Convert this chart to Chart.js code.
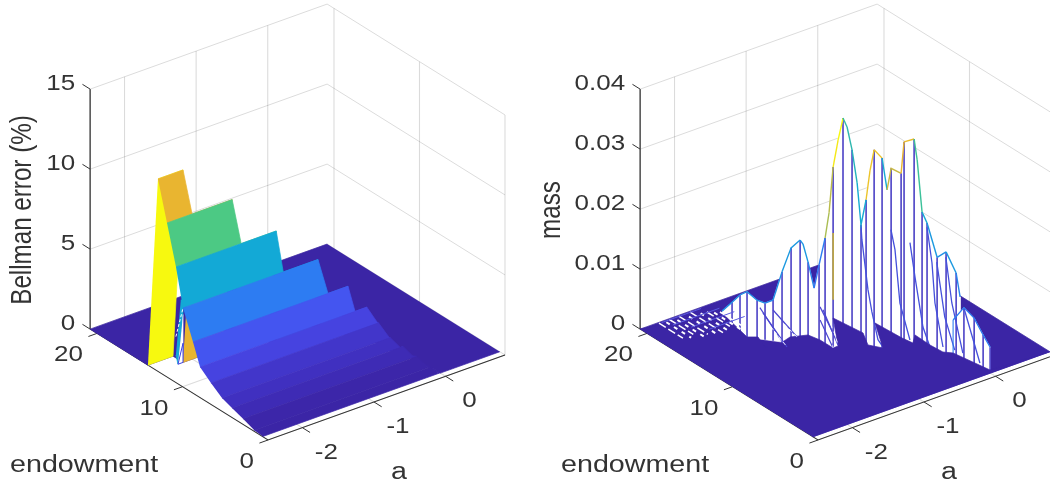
<!DOCTYPE html>
<html>
<head>
<meta charset="utf-8">
<title>Bellman error and mass</title>
<script src="https://cdn.jsdelivr.net/npm/chart.js@4"></script>
<style>
    html, body { margin: 0; padding: 0; background: #fff; overflow: hidden; }
    canvas { position: absolute; top: 0; filter: blur(0.5px); }
    #errorChart { left: 0; }
    #massChart { left: 525px; }
</style>
</head>
<body>
<canvas id="errorChart" width="525" height="485"></canvas>
<canvas id="massChart" width="525" height="485"></canvas>
<script>
/* Both panels are MATLAB style surf plots, so the values are kept as (a, endowment, height)
   and projected to the flat x/y that the Chart.js scales expect. */

// Axis ranges and ticks
const aMin = -2.48;
const aMax = 0.83;
const endowMin = 0.6;  // surface starts a bit in front of the axis
const endowMax = 20.8;
const aTicks = [-2, -1, 0];
const endowTicks = [20, 10, 0];
const errorTicks = [0, 5, 10, 15];
const massTicks = [0, 0.01, 0.02, 0.03, 0.04];

// Left panel: one height and one cliff position per endowment row, back to front
const errorEndow = [20.8, 14.04, 12.87, 11.81, 10.76, 9.94, 8.77, 7.95, 6.67, 5.38, 4.21, 2.92, 1.6, 0.6];
const errorLevel = [0, 0, 12.03, 9.63, 7.23, 4.94, 3.21, 1.91, 1.34, 0.83, 0.6, 0.35, 0.08, 0.02];
const errorEdgeA = [-2.48, -2.48, -2.13, -1.57, -1.08, -0.595, -0.315, -0.15, -0.14, -0.13, -0.09, -0.05, -0.02, 0];

// Right panel: main ridge of the mass surface, left to right on screen
const massRidgeA = [-1.823, -1.753, -1.698, -1.649, -1.579, -1.524, -1.468, -1.406, -1.343, -1.28, -1.26, -1.225, -1.183,
    -1.148, -1.107, -1.079, -1.051, -1.016, -0.982, -0.954, -0.919, -0.884, -0.857, -0.822, -0.794, -0.766, -0.711, -0.676,
    -0.648, -0.579, -0.558, -0.488, -0.467, -0.433, -0.398, -0.328, -0.266, -0.196, -0.168];
const massRidgeE = [16.73, 16.14, 15.67, 15.26, 14.67, 14.2, 13.73, 13.2, 12.67, 12.14, 11.97, 11.67, 11.32,
    11.03, 10.67, 10.44, 10.2, 9.91, 9.62, 9.38, 9.09, 8.79, 8.56, 8.26, 8.03, 7.79, 7.32, 7.03,
    6.79, 6.2, 6.03, 5.44, 5.26, 4.97, 4.68, 4.09, 3.56, 2.97, 2.74];
const massRidgeZ = [0.0038, 0.0055, 0.0069, 0.0076, 0.0064, 0.0061, 0.0068, 0.0117, 0.0159, 0.0174, 0.0168, 0.0139, 0.0097,
    0.0137, 0.0183, 0.0226, 0.0303, 0.0349, 0.0387, 0.0373, 0.0336, 0.0282, 0.0213, 0.0256, 0.0306, 0.0341, 0.0329, 0.0277,
    0.0314, 0.0308, 0.0361, 0.0368, 0.0334, 0.0248, 0.0231, 0.0176, 0.0187, 0.0154, 0.0115];
const massRidgeShade = [0.33, 0.33, 0.33, 0.33, 0.33, 0.33, 0.3, 0.33, 0.36, 0.36, 0.34, 0.36, 0.3,
    0.25, 0.27, 0.72, 0.74, 0.95, 1, 0.52, 0.5, 0.47, 0.42, 0.42, 0.84, 0.85, 0.84, 0.42,
    0.76, 0.76, 0.8, 0.82, 0.56, 0.55, 0.42, 0.36, 0.33, 0.36, 0.3];
const massStripeAt = [1, 2, 3, 4, 5, 6, 7, 8, 9, 11, 13, 14, 16, 18, 20, 22, 23, 25, 26, 28, 29, 30, 31, 33, 34, 35, 36, 37];

// Small front hump at the right end
const massHumpA = [-0.217, -0.141, -0.071, -0.009, 0.04];
const massHumpE = [3.15, 2.52, 1.91, 1.38, 0.97];
const massHumpZ = [0.0075, 0.0098, 0.0083, 0.0057, 0.0038];

// Blue curves running down from the ridge towards low endowment
const massSlopeA = [-0.582, -0.243, -0.165, -0.05, 0.01, 0.04, 0.05];
const massSlopeE = [
    [10.87, 10.76, 10.05, 9.59, 8.88, 8.3],
    [10.2, 9.73, 9.15, 7.98],
    [8.63, 8.04, 7.11, 6.29],
    [7.6, 7.02, 6.67, 5.73],
    [6.96, 6.03, 4.86],
    [6.15, 5.45, 4.16],
    [4.12, 2.25]
];
const massSlopeZ = [
    [0.0181, 0.0157, 0.008, 0.0047, 0.0007, 0],
    [0.0164, 0.0135, 0.0051, 0],
    [0.0153, 0.0101, 0.0026, 0],
    [0.0183, 0.0129, 0.0065, 0],
    [0.0128, 0.0045, 0],
    [0.0142, 0.0072, 0],
    [0.0075, 0]
];

// Saw tooth edge where the solid front part of the floor begins
const massFrontA = [-2.48, -1.525, -1.644, -1.547, -1.627, -1.539, -1.263, -1.075, -1.04, -1.038, -0.965,
    -0.612, -0.559, -0.686, -0.596, -0.311, -0.285, -0.26, -0.127, -0.137, -0.122, -0.045, 0.04, 0.83, -2.48];
const massFrontE = [20.83, 19.22, 15.3, 14.83, 13.34, 12.91, 13.46, 12.93, 11.82, 10.31, 10.34,
    13.88, 10.82, 9.18, 8.18, 11.5, 8.55, 7.49, 8.36, 6.53, 5.14, 4.59, 0.98, 0.6, 0.6];

// Broken white marks on the far left of the floor
const massChainA = [-2.229, -2.15, -2.084, -2.02, -1.953, -1.87, -1.795, -1.72, -1.645, -1.59, -1.529];
const massChainFrom = [20.7, 20.5, 20.7, 20.3, 20.7, 20.2, 20.7, 20.1, 19.99, 19.6, 19.43];
const massChainTo = [17.9, 17.6, 17.9, 17.2, 17.3, 16.7, 16.85, 16.6, 17.3, 16.3, 16.5];

// Blue arcs that cross those marks
const massArcFrom = [-2.3, -2.25, -2.1, -1.95];
const massArcTo = [-1.75, -1.6, -1.5, -1.45];
const massArcE = [19.8, 18.9, 18, 17.2];
const massArcZ = [0.0012, 0.0014, 0.0012, 0.0009];

// Thin low ridges that run over the floor
const massTrailA = [-1.412, -1.432, -1.201, -0.825, -0.952, -1.038];
const massTrailFrom = [15.74, 15.21, 15.97, 13.62, 12.21, 11.83];
const massTrailTo = [13.05, 12.4, 13.16, 12.1, 10.46, 10.31];
const massTrailZ = [0.0035, 0.0032, 0.002, 0.003, 0.0043, 0.0033];

// Colour map
const shadeStops = [0, 0.05, 0.11, 0.16, 0.27, 0.41, 0.6, 0.8, 1];
const shadeRed = [59, 64, 70, 68, 44, 19, 75, 233, 247];
const shadeGreen = [37, 48, 67, 85, 125, 169, 201, 181, 249];
const shadeBlue = [165, 192, 224, 240, 242, 214, 132, 48, 15];

function shade(t) {
    t = Math.min(1, Math.max(0, t));
    let i = 0;
    while (i < shadeStops.length - 2 && t > shadeStops[i + 1]) i++;
    const f = (t - shadeStops[i]) / (shadeStops[i + 1] - shadeStops[i]);
    const mix = c => Math.round(c[i] + (c[i + 1] - c[i]) * f);
    return `rgb(${mix(shadeRed)},${mix(shadeGreen)},${mix(shadeBlue)})`;
}

// Fixed camera, same for both panels
function makeView(originX, zScale) {
    return (a, e, z = 0) => ({
        x: originX + 71.6 * (a - aMin) - 8.55 * e,
        y: 440 - 25.7 * (a - aMin) - 5.33 * e - zScale * z
    });
}

function shape(points, color) {
    return {
        data: points, showLine: true, fill: 'shape', pointRadius: 0, tension: 0,
        backgroundColor: color, borderColor: color, borderWidth: 0.7
    };
}

function stroke(points, color, width = 1, extra = {}) {
    return {
        data: points, showLine: true, fill: false, pointRadius: 0, tension: 0,
        borderColor: color, borderWidth: width, ...extra
    };
}

// Box walls, grid lines, axis lines and tick marks
function frame(view, zTicks) {
    const grid = 'rgba(0,0,0,0.14)';
    const out = [];
    const zTop = zTicks[zTicks.length - 1];
    zTicks.forEach(z => {
        out.push(stroke([view(aMin, endowMax, z), view(aMax, endowMax, z), view(aMax, 0, z)], grid));
    });
    aTicks.forEach(a => {
        out.push(stroke([view(a, 0), view(a, endowMax), view(a, endowMax, zTop)], grid, 1.1));
    });
    endowTicks.forEach(e => {
        out.push(stroke([view(aMin, e), view(aMax, e), view(aMax, e, zTop)], grid, 1.1));
    });
    out.push(stroke([view(aMin, endowMax), view(aMin, endowMax, zTop)], '#5f5f5f', 1.7));
    out.push(stroke([view(aMin, endowMax), view(aMin, 0), view(aMax, 0)], '#333', 1.1));
    zTicks.forEach(z => {
        out.push(stroke([view(aMin, endowMax, z), view(aMin, endowMax + 0.9, z)], '#333', 1));
    });
    endowTicks.forEach(e => {
        out.push(stroke([view(aMin, e), view(aMin - 0.12, e)], '#333', 1));
    });
    aTicks.forEach(a => {
        out.push(stroke([view(a, 0), view(a, -0.9)], '#333', 1));
    });
    return out;
}

// Left panel surface: the flat floor in one piece, then the raised rows from back to front
function errorSurface(view) {
    const out = [];
    const top = Math.max(...errorLevel);
    const last = errorEndow.length - 1;

    const floor = [view(aMax, endowMax), view(aMin, endowMax), view(aMin, errorEndow[1])];
    for (let k = 1; k < last; k++) {
        floor.push(view(errorEdgeA[k + 1], errorEndow[k]), view(errorEdgeA[k + 1], errorEndow[k + 1]));
    }
    floor.push(view(aMax, errorEndow[last]));
    out.push(shape(floor, shade(0)));

    for (let k = 1; k < last; k++) {
        const eBack = errorEndow[k], eFront = errorEndow[k + 1];
        const zBack = errorLevel[k], zFront = errorLevel[k + 1];
        const aBack = errorEdgeA[k], aFront = errorEdgeA[k + 1];
        const color = shade(zFront / top);
        if (aFront > aBack) {
            out.push(shape([view(aBack, eBack), view(aFront, eBack), view(aFront, eFront, zFront), view(aBack, eFront, zFront)], color));
        }
        if (aBack > aMin) {
            out.push(shape([view(aMin, eBack, zBack), view(aBack, eBack, zBack), view(aBack, eFront, zFront), view(aMin, eFront, zFront)], color));
        }
        // teal sliver and white gap seen behind the tallest row
        if (k === 1) {
            out.push(shape([view(-2.09, 14.04), view(-2.2, 12.87), view(-2.13, 12.87, 3), view(-2.13, 12.87, 3.9), view(-2.05, 13.8, 3.46)], shade(0.41)));
            out.push(shape([view(-2.2, 12.87), view(-2.13, 12.87), view(-2.13, 12.87, 3)], '#ffffff'));
        }
    }
    return out;
}

function errorSliver(view) {
    return [
        stroke([view(-2.2, 12.87), view(-2.13, 12.87), view(-2.13, 12.87, 1.2), view(-2.2, 12.87)], '#3a40e0', 1),
        stroke([view(-2.19, 13.2, 1.6), view(-2.13, 12.87, 3.4)], '#ffffff', 1, { borderDash: [3, 2] })
    ];
}

// Right panel: floor, white underside, stripes, ridge lines, then the front floor on top
function massSurface(view) {
    const out = [];
    const floor = shade(0);
    out.push(shape([view(aMin, endowMin), view(aMax, endowMin), view(aMax, endowMax), view(aMin, endowMax)], floor));

    const ridge = massRidgeA.map((a, i) => view(a, massRidgeE[i], massRidgeZ[i]));
    const hump = massHumpA.map((a, i) => view(a, massHumpE[i], massHumpZ[i]));
    const base = massRidgeA.map((a, i) => view(a, massRidgeE[i]));
    const humpBase = massHumpA.map((a, i) => view(a, massHumpE[i]));
    out.push(shape([...ridge, ...base.slice().reverse()], '#ffffff'));
    out.push(shape([...hump, ...humpBase.slice().reverse()], '#ffffff'));

    massStripeAt.forEach(i => {
        out.push(stroke([ridge[i], base[i]], '#4c42c6', 1.6));
    });
    hump.forEach((p, i) => {
        if (i > 0) out.push(stroke([p, humpBase[i]], '#4c42c6', 1.6));
    });
    out.push(stroke([view(massRidgeA[16], massRidgeE[16], 0.0193), view(massRidgeA[16], massRidgeE[16], 0.0082)], '#c4ae3a', 1.6));

    massSlopeA.forEach((a, s) => {
        const line = massSlopeE[s].map((e, i) => view(a, e, massSlopeZ[s][i]));
        out.push(stroke(line, '#4450dc', 1.3));
    });

    out.push(stroke(ridge, shade(0.33), 1.4, {
        segment: { borderColor: ctx => shade(massRidgeShade[ctx.p1DataIndex]) }
    }));
    out.push(stroke(hump, shade(0.27), 1.3));
    out.push(stroke([view(massHumpA[0], massHumpE[0]), hump[0]], shade(0.27), 1.1));

    out.push(shape(massFrontA.map((a, i) => view(a, massFrontE[i])), floor));

    massChainA.forEach((a, i) => {
        const dash = i % 2 ? [4, 5] : [8, 3];
        out.push(stroke([view(a, massChainFrom[i]), view(a, massChainTo[i])], '#ffffff', i % 2 ? 2 : 1.5, { borderDash: dash }));
    });
    massArcFrom.forEach((from, i) => {
        out.push(stroke([view(from, massArcE[i], massArcZ[i]), view(massArcTo[i], massArcE[i], massArcZ[i])], '#5a5ae0', 1));
    });
    massTrailA.forEach((a, i) => {
        out.push(stroke([view(a, massTrailFrom[i], massTrailZ[i]), view(a, massTrailTo[i])], '#4a46d0', 1.2));
        out.push(stroke([view(a, massTrailFrom[i] - 1.3, massTrailZ[i] / 2.4), view(a, massTrailTo[i])], '#ffffff', 0.9, { borderDash: [4, 3] }));
    });
    return out;
}

// Tick and axis labels; the source picture was stretched sideways, hence the x scale on text
const textStretch = 1.22;
const labelPlugin = {
    id: 'panelLabels',
    afterDatasetsDraw(chart, args, opts) {
        const { ctx, scales: { x, y } } = chart;
        const { view, zTicks, zFormat, zLabel, zLabelX, endowX } = opts;
        const put = (text, px, py, align, size, angle = 0) => {
            ctx.save();
            ctx.translate(x.getPixelForValue(px), y.getPixelForValue(py));
            ctx.scale(textStretch, 1);
            ctx.rotate(angle);
            ctx.font = `${size}px "Liberation Sans", Arial, sans-serif`;
            ctx.fillStyle = '#333';
            ctx.textAlign = align;
            ctx.textBaseline = 'middle';
            ctx.fillText(text, 0, 0);
            ctx.restore();
        };
        zTicks.forEach(z => {
            const p = view(aMin, endowMax, z);
            put(zFormat(z), p.x - 15, p.y - 5.5, 'right', 21.3);
        });
        endowTicks.forEach(e => {
            const p = view(aMin, e);
            put(String(e), p.x - 14, p.y + 22, 'right', 21.3);
        });
        aTicks.forEach(a => {
            const p = view(a, 0);
            put(String(a), p.x + 24, p.y + 25, 'center', 21.3);
        });
        const corner = view(aMin, 0);
        put('a', corner.x + 131, 473, 'center', 23.5);
        put('endowment', endowX, 466, 'left', 23.5);
        put(zLabel, zLabelX, 210, 'center', 24.2, -Math.PI / 2);
    }
};

function drawPanel(canvasId, view, layers, labelOptions) {
    // Chart.js paints the first dataset last, so flip the back to front list
    new Chart(document.getElementById(canvasId), {
        type: 'scatter',
        data: { datasets: layers.slice().reverse() },
        plugins: [labelPlugin],
        options: {
            responsive: false,
            animation: false,
            layout: { padding: 0 },
            plugins: {
                legend: { display: false },
                tooltip: { enabled: false },
                panelLabels: { view, ...labelOptions }
            },
            scales: {
                x: { type: 'linear', min: 0, max: 525, display: false },
                y: { type: 'linear', min: 0, max: 485, reverse: true, display: false }
            }
        }
    });
}

const errorView = makeView(268, 16);
drawPanel('errorChart', errorView,
    [...frame(errorView, errorTicks), ...errorSurface(errorView), ...errorSliver(errorView)],
    { zTicks: errorTicks, zFormat: z => String(z), zLabel: 'Bellman error (%)', zLabelX: 23, endowX: 10 });

// the right panel canvas starts at 525, its origin sits 550 to the right of the left one
const massView = makeView(293, 6000);
drawPanel('massChart', massView,
    [...frame(massView, massTicks), ...massSurface(massView)],
    { zTicks: massTicks, zFormat: z => (z === 0 ? '0' : z.toFixed(2)), zLabel: 'mass', zLabelX: 27, endowX: 36 });
</script>
</body>
</html>
